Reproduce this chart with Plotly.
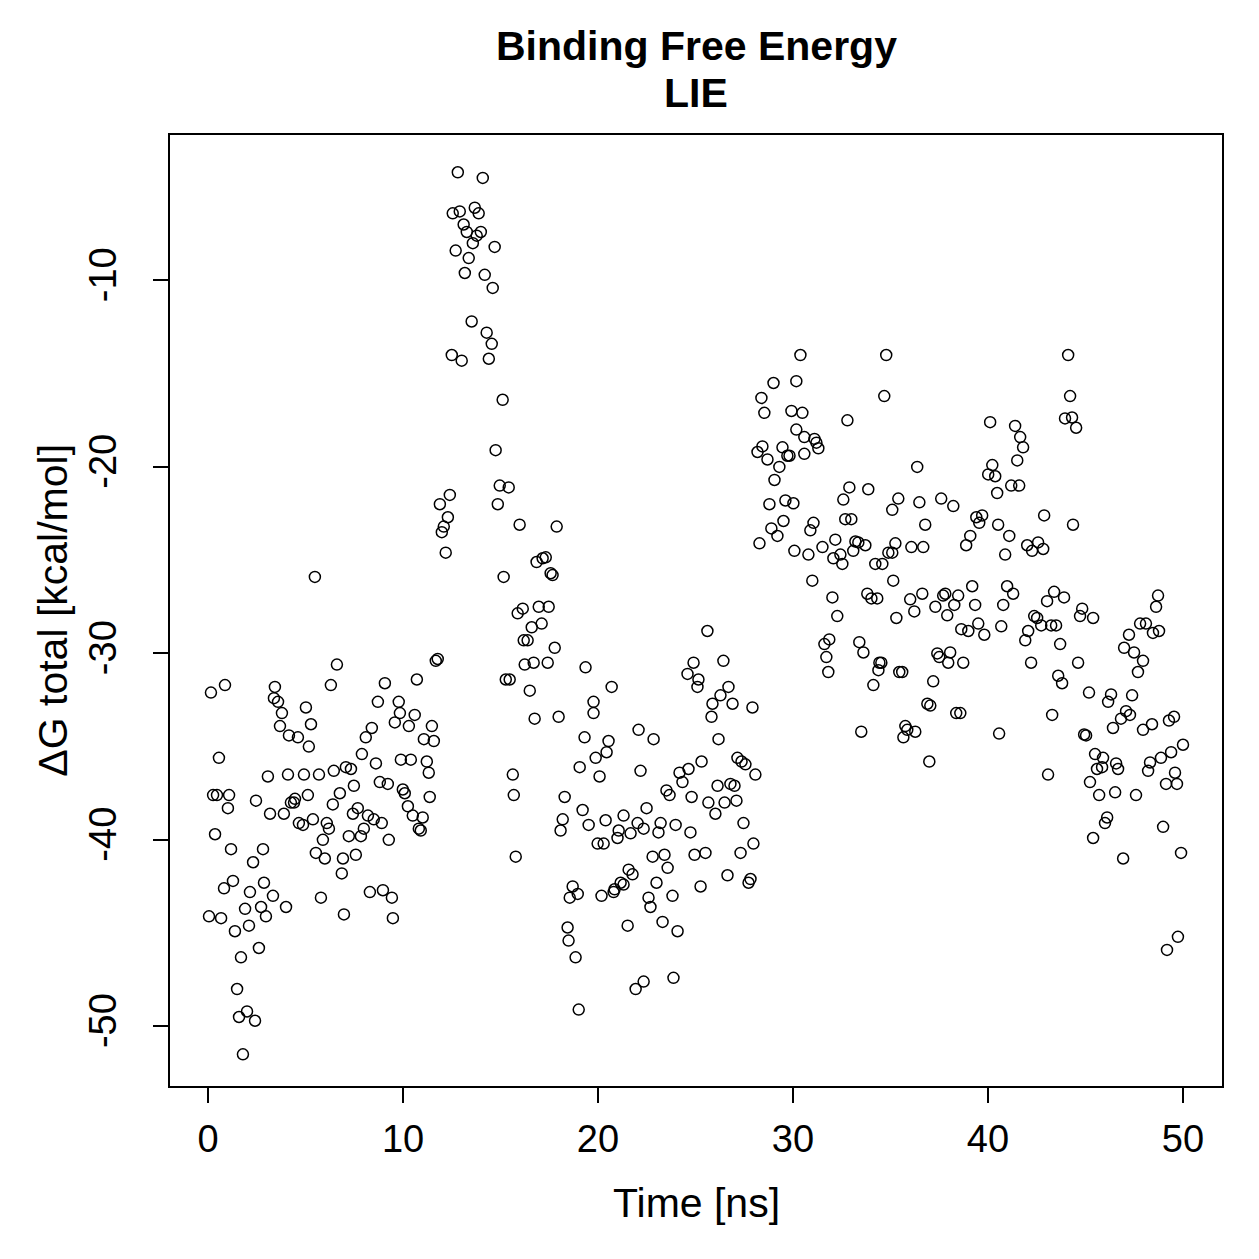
import plotly.graph_objects as go

# Time [ns] and Delta G total [kcal/mol]
time_ns = [
    0.05, 0.15, 0.26, 0.36, 0.46, 0.56, 0.67, 0.82, 0.87, 1.02, 1.08, 1.18, 1.28, 1.38, 1.49, 1.59,
    1.69, 1.79, 1.90, 2.00, 2.10, 2.15, 2.31, 2.41, 2.46, 2.61, 2.72, 2.82, 2.87, 2.97, 3.07, 3.18,
    3.33, 3.38, 3.43, 3.59, 3.69, 3.79, 3.89, 4.00, 4.10, 4.15, 4.25, 4.41, 4.46, 4.61, 4.66,
    5.48, 6.61, 6.30, 9.07, 5.02, 5.28, 5.17, 8.71, 9.58, 8.40, 8.09, 7.89, 8.61, 4.92, 5.69, 6.45,
    7.07, 7.33, 7.48, 6.76, 6.40, 5.12, 8.81, 9.22, 7.43, 7.68, 8.20, 8.50, 8.91, 7.99, 7.84, 7.22,
    9.27, 5.38, 4.87, 6.09, 6.20, 5.89, 5.53, 5.99, 6.92, 7.58, 6.86, 5.79, 6.97, 8.30, 8.97, 9.43, 9.48,
    11.78, 11.68, 10.71, 9.78, 9.84, 10.60, 10.30, 11.48, 11.07, 11.58, 9.89, 10.40, 11.22, 11.32,
    9.99, 10.09, 11.37, 10.25, 10.50, 11.01, 10.81, 10.91,
    12.81, 14.09, 12.55, 12.91, 13.68, 13.88, 13.11, 13.27, 13.99, 13.78, 13.58, 14.70, 12.70, 13.37,
    13.17, 14.19, 14.60, 13.52, 14.29, 14.55, 12.50, 13.01, 14.40, 12.40, 11.89, 12.30, 12.09, 11.99, 12.19,
    15.11, 14.75, 14.96, 15.42, 14.86, 15.98, 17.88, 16.85, 17.16, 17.32, 17.57, 17.67, 15.16, 15.88,
    16.14, 16.96, 17.47, 16.60, 17.11, 16.19, 16.39, 17.78, 16.24, 16.70, 17.42, 19.36, 15.27, 15.47,
    16.50, 16.75, 17.98, 19.31, 15.63, 15.68, 19.06, 18.29, 19.21, 19.52, 18.19, 18.08, 15.78, 18.70,
    18.55, 18.96, 18.44, 18.49, 18.85, 19.01,
    20.70, 19.77, 19.77, 22.08, 22.85, 20.54, 20.44, 19.88, 20.08, 22.18, 24.18, 24.33, 23.51, 23.67,
    22.49, 20.39, 21.31, 22.03, 22.34, 23.21, 23.98, 21.06, 21.67, 21.00, 23.10, 19.98, 20.29, 22.80,
    23.41, 23.57, 21.57, 21.77, 21.16, 21.31, 20.85, 20.80, 20.18, 23.00, 22.59, 22.69, 23.82, 25.26,
    21.52, 23.31, 24.08, 21.93, 22.34, 23.87,
    29.00, 28.38, 28.53, 28.18, 28.43, 28.69, 29.30, 29.05, 28.79, 28.89, 29.20, 28.28, 25.61, 24.90,
    24.59, 26.43, 25.15, 25.10, 26.69, 26.28, 25.87, 26.90, 27.92, 25.82, 26.18, 25.31, 24.64, 27.15,
    27.36, 27.56, 28.07, 26.13, 26.79, 27.00, 24.80, 25.66, 26.02, 26.49, 27.10, 24.74, 27.46, 24.95,
    25.51, 27.31, 27.97, 26.64, 27.82, 27.72,
    30.38, 34.78, 30.17, 34.68, 29.92, 30.48, 32.79, 30.17, 30.58, 31.10, 31.20, 31.30, 30.58, 29.46,
    29.71, 29.82, 29.61, 30.02, 29.51, 32.89, 33.86, 32.58, 32.68, 32.99, 30.89, 31.05, 30.07, 30.79,
    31.51, 32.17, 32.07, 32.43, 32.53, 33.09, 33.20, 33.35, 33.71, 34.22, 34.58, 34.89, 30.99, 32.02,
    32.27, 33.81, 34.02, 34.32, 31.61, 31.86, 31.71, 31.81, 33.40, 33.61, 34.43, 34.53, 34.38, 34.12, 33.50,
    36.37, 35.40, 35.09, 36.48, 37.60, 38.22, 39.40, 39.70, 39.55, 36.78, 35.25, 35.09, 36.07, 36.68,
    39.09, 38.88, 35.14, 36.01, 36.63, 36.22, 35.30, 37.81, 37.70, 38.47, 37.30, 37.91, 38.27, 39.19,
    39.34, 38.63, 38.99, 39.50, 39.81, 37.40, 37.50, 38.06, 37.96, 38.73, 35.45, 35.60, 37.19, 36.89,
    37.04, 38.37, 38.58, 35.76, 35.86, 36.27, 35.66, 36.99,
    44.11, 44.21, 43.95, 44.31, 44.52, 40.11, 41.39, 41.65, 41.80, 41.50, 40.22, 40.01, 40.37, 40.47,
    41.19, 41.60, 40.52, 41.09, 40.88, 42.88, 44.36, 42.01, 42.26, 42.57, 42.83, 40.98, 41.29, 40.78,
    40.68, 43.03, 43.39, 43.90, 42.37, 42.52, 42.73, 43.24, 43.49, 42.06, 41.91, 43.70, 44.83, 44.72,
    42.21, 44.62, 43.60, 43.80, 45.18, 43.29, 40.57, 44.93, 45.03, 43.08,
    48.72, 48.62, 45.39, 47.80, 48.10, 48.46, 48.77, 47.23, 46.98, 47.49, 47.95, 47.69, 46.31, 46.16,
    47.39, 47.08, 46.82, 47.28, 46.41, 47.95, 48.41, 49.28, 49.54, 45.49, 45.90, 45.59, 45.85, 46.57,
    46.67, 48.31, 48.21, 48.87, 49.39, 50.00, 49.59, 49.13, 49.69, 45.23, 45.70, 46.52, 47.59, 46.11,
    46.00, 45.39, 48.98, 46.93, 49.90, 49.74, 49.18,
]

dg_total = [
    -44.1, -32.1, -37.6, -39.7, -37.6, -35.6, -44.2, -42.6, -31.7, -38.3, -37.6, -40.5, -42.2, -44.9, -48.0, -49.5,
    -46.3, -51.5, -43.7, -49.2, -44.6, -42.8, -41.2, -49.7, -37.9, -45.8, -43.6, -40.5, -42.3, -44.1, -36.6, -38.6,
    -43.0, -32.4, -31.8, -32.6, -33.9, -33.2, -38.6, -43.6, -36.5, -34.4, -38.0, -38.0, -37.8, -34.5, -39.1,
    -25.9, -30.6, -31.7, -31.6, -32.9, -33.8, -35.0, -32.6, -33.7, -34.0, -34.5, -35.4, -35.9, -36.5, -36.5, -36.3,
    -36.1, -36.2, -37.1, -37.5, -38.1, -37.6, -36.9, -37.0, -38.6, -38.3, -38.7, -38.9, -39.1, -39.4, -39.8, -39.8,
    -40.0, -38.9, -39.2, -39.1, -39.4, -40.0, -40.7, -41.0, -41.0, -40.8, -41.8, -43.1, -44.0, -42.8, -42.7, -43.1, -44.2,
    -30.3, -30.4, -31.4, -32.6, -33.2, -33.3, -33.9, -33.9, -34.6, -34.7, -35.7, -35.7, -35.8, -36.4,
    -37.3, -37.5, -37.7, -38.2, -38.7, -38.8, -39.4, -39.5,
    -4.2, -4.5, -6.4, -6.3, -6.1, -6.4, -7.0, -7.4, -7.4, -7.6, -8.0, -8.2, -8.4, -8.8,
    -9.6, -9.7, -10.4, -12.2, -12.8, -13.4, -14.0, -14.3, -14.2, -21.5, -22.0, -22.7, -23.2, -23.5, -24.6,
    -16.4, -19.1, -21.0, -21.1, -22.0, -23.1, -23.2, -25.1, -24.9, -24.85, -25.7, -25.8, -25.9, -27.85,
    -27.6, -27.5, -27.5, -28.6, -28.4, -29.3, -29.3, -29.7, -30.6, -30.5, -30.5, -30.75, -31.4, -31.4,
    -32.0, -33.5, -33.4, -34.5, -36.5, -37.6, -36.1, -37.7, -38.4, -39.2, -38.9, -39.5, -40.9, -42.5,
    -43.1, -42.9, -44.7, -45.4, -46.3, -49.1,
    -31.8, -32.6, -33.2, -34.1, -34.6, -34.7, -35.3, -35.6, -36.6, -36.3, -36.4, -36.9, -37.35, -37.6,
    -38.3, -38.95, -38.7, -39.1, -39.4, -39.1, -39.2, -39.5, -39.65, -39.9, -39.6, -40.2, -40.2, -40.9,
    -40.8, -41.5, -41.6, -41.85, -42.3, -42.4, -42.65, -42.8, -43.0, -42.3, -43.1, -43.6, -43.0, -42.5,
    -44.6, -44.4, -44.9, -48.0, -47.6, -47.4,
    -15.5, -16.3, -17.1, -19.2, -18.9, -19.6, -20.0, -20.7, -22.0, -23.3, -23.7, -24.1, -28.8, -30.5,
    -31.1, -30.4, -31.4, -31.8, -31.8, -32.25, -32.7, -32.7, -32.9, -33.4, -34.6, -35.8, -36.2, -35.6,
    -35.8, -35.95, -36.5, -37.1, -37.0, -37.1, -37.7, -38.0, -38.6, -38.0, -37.9, -39.6, -39.1, -40.8,
    -40.7, -40.7, -40.2, -41.9, -42.1, -42.3,
    -14.0, -14.0, -15.4, -16.2, -17.0, -17.1, -17.5, -18.0, -18.4, -18.5, -18.7, -19.0, -19.3, -18.95,
    -19.4, -19.4, -21.8, -21.95, -22.9, -21.1, -21.2, -21.75, -22.8, -22.8, -23.4, -23.0, -24.5, -24.7,
    -24.3, -23.9, -24.9, -24.7, -25.2, -24.5, -24.0, -24.05, -24.2, -25.2, -25.2, -24.6, -26.1, -27.0,
    -28.0, -26.8, -27.05, -27.05, -29.5, -29.25, -30.2, -31.0, -29.4, -29.95, -30.5, -30.5, -30.9, -31.7, -34.2,
    -20.0, -21.7, -22.3, -21.9, -21.7, -22.1, -22.7, -22.6, -23.0, -23.1, -24.1, -24.6, -24.3, -24.3,
    -23.7, -24.2, -26.1, -27.1, -26.8, -27.75, -28.1, -26.8, -26.9, -26.9, -27.5, -27.96, -27.4, -26.4,
    -27.4, -28.7, -28.8, -28.4, -29.0, -30.0, -30.2, -29.95, -30.5, -30.5, -31.0, -31.0, -31.5, -32.7,
    -32.8, -33.2, -33.2, -33.9, -34.1, -34.2, -34.5, -35.8,
    -14.0, -16.2, -17.4, -17.35, -17.9, -17.6, -17.8, -18.4, -18.95, -19.65, -19.9, -20.4, -20.5, -21.4,
    -21.0, -21.0, -23.1, -23.7, -24.7, -22.6, -23.1, -24.2, -24.5, -24.05, -24.4, -26.4, -26.8, -27.4,
    -28.55, -27.2, -26.7, -27.0, -28.0, -28.1, -28.5, -28.5, -28.5, -28.8, -29.3, -29.5, -27.6, -28.0,
    -30.5, -30.5, -31.2, -31.6, -32.1, -33.3, -34.3, -34.35, -34.4, -36.5,
    -26.9, -27.5, -28.1, -28.4, -28.4, -28.9, -28.8, -29.0, -29.7, -29.95, -30.4, -31.0, -32.2, -32.6,
    -32.25, -33.1, -33.5, -33.3, -34.0, -34.1, -33.8, -33.6, -33.4, -35.4, -35.6, -36.2, -36.1, -35.9,
    -36.2, -35.85, -36.3, -35.6, -35.3, -34.9, -36.4, -37.0, -37.0, -36.9, -37.6, -37.45, -37.6, -38.8,
    -39.1, -39.9, -39.3, -41.0, -40.7, -45.2, -45.9,
]

x_ticks = [0, 10, 20, 30, 40, 50]
x_tick_labels = ["0", "10", "20", "30", "40", "50"]
y_ticks = [-10, -20, -30, -40, -50]
y_tick_labels = ["-10", "-20", "-30", "-40", "-50"]

title_line1 = "Binding Free Energy"
title_line2 = "LIE"
x_title = "Time [ns]"
y_title = "ΔG total [kcal/mol]"

FONT = "Liberation Sans, Arial, Helvetica, sans-serif"

fig = go.Figure()
fig.add_trace(go.Scatter(
    x=time_ns, y=dg_total, mode="markers",
    marker=dict(symbol="circle-open", size=11, color="black", line=dict(width=1.5, color="black")),
    showlegend=False, hoverinfo="x+y",
))

axis_common = dict(
    showline=True, mirror=True, linewidth=2, linecolor="black",
    ticks="outside", ticklen=15, tickwidth=2, tickcolor="black",
    showgrid=False, zeroline=False,
    tickfont=dict(family=FONT, size=38, color="black"),
)

fig.update_layout(
    width=1259, height=1259,
    margin=dict(l=170, r=37, t=135, b=173),
    paper_bgcolor="white", plot_bgcolor="white",
    font=dict(family=FONT, color="black"),
    xaxis=dict(range=[-1.95, 52.0], tickmode="array", tickvals=x_ticks, ticktext=x_tick_labels,
               ticklabelstandoff=3, **axis_common),
    yaxis=dict(range=[-53.2, -2.2], tickmode="array", tickvals=y_ticks, ticktext=y_tick_labels,
               tickangle=-90, ticklabelstandoff=22, **axis_common),
    annotations=[
        dict(text="<b>" + title_line1 + "</b>", xref="paper", yref="paper", x=0.5, y=1.0936,
             xanchor="center", yanchor="middle", showarrow=False,
             font=dict(family=FONT, size=41, color="black")),
        dict(text="<b>" + title_line2 + "</b>", xref="paper", yref="paper", x=0.5, y=1.0442,
             xanchor="center", yanchor="middle", showarrow=False,
             font=dict(family=FONT, size=41, color="black")),
        dict(text=x_title, xref="paper", yref="paper", x=0.5, y=-0.123,
             xanchor="center", yanchor="middle", showarrow=False,
             font=dict(family=FONT, size=41, color="black")),
        dict(text=y_title, xref="paper", yref="paper", x=-0.112, y=0.5,
             xanchor="center", yanchor="middle", showarrow=False, textangle=-90,
             font=dict(family=FONT, size=41, color="black")),
    ],
)

fig.write_html("out.html")
